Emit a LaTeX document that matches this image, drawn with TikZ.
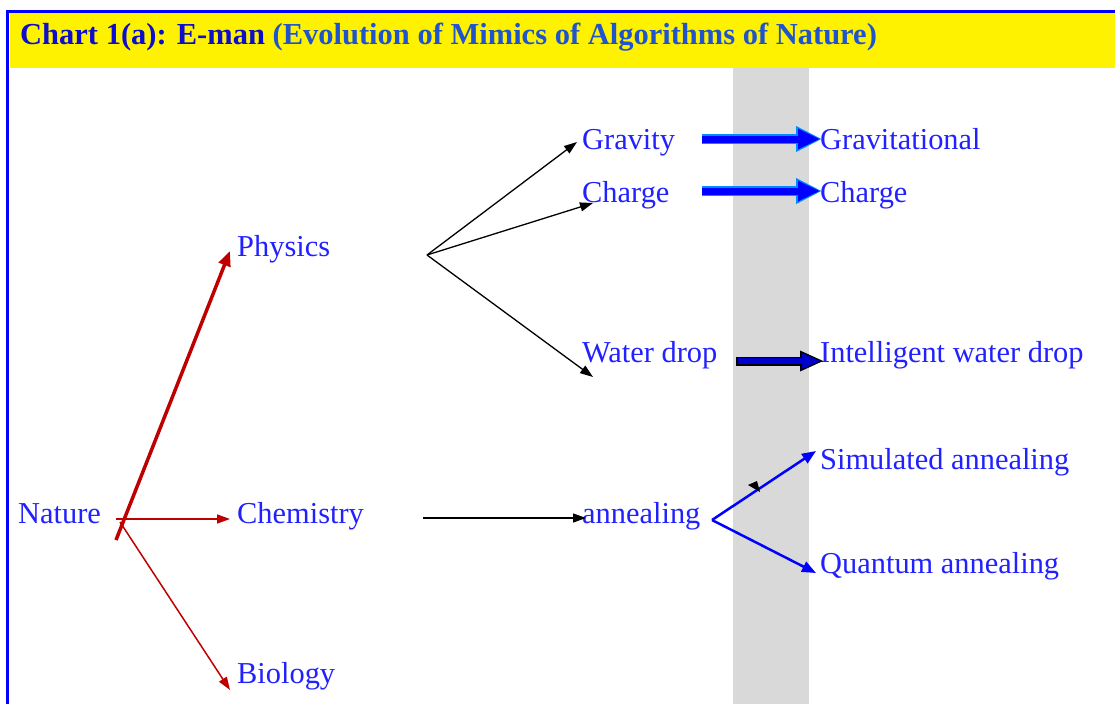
\documentclass[tikz,border=0pt]{standalone}
\usepackage{fontspec}
\setmainfont{Liberation Serif}
\usetikzlibrary{arrows.meta}
\definecolor{lbl}{rgb}{0.13,0.13,1}
\definecolor{titleA}{rgb}{0.05,0.05,0.8}
\definecolor{titleB}{rgb}{0.12,0.33,0.8}
\definecolor{natred}{rgb}{0.75,0,0}
\definecolor{band}{rgb}{0.85,0.85,0.85}
\definecolor{halo}{rgb}{0,0.55,1}
\definecolor{darkblue}{rgb}{0,0,0.8}
\begin{document}
\begin{tikzpicture}[x=1pt,y=-1pt,
  lab/.style={anchor=base west, inner sep=0pt, text=lbl, font=\fontsize{30.4}{36}\selectfont},
  blk/.style={draw=black, line width=1.3pt, -{Triangle[length=13pt,width=9pt]}},
  redthin/.style={draw=natred, line width=1.5pt, -{Triangle[length=13pt,width=9pt]}},
  redthick/.style={draw=natred, line width=3.5pt, -{Triangle[length=15pt,width=12pt]}},
  bluethin/.style={draw=blue, line width=2.5pt, -{Triangle[length=14pt,width=11pt]}},
  bighalo/.style={draw=halo, line width=10pt, -{Triangle[length=26pt,width=24pt]}},
  bigcore/.style={draw=blue, line width=7pt, -{Triangle[length=22pt,width=19pt]}},
  wdout/.style={draw=black, line width=9pt, -{Triangle[length=24pt,width=19pt]}},
  wdin/.style={draw=darkblue, line width=6pt, -{Triangle[length=19pt,width=14pt]}}
]
\path[use as bounding box] (0,0) rectangle (1115,704);
% frame and title band
\fill[yellow] (10,12) rectangle (1115,68);
\fill[band] (733,68) rectangle (809,704);
\draw[blue, line width=3pt] (7.5,704) -- (7.5,11) -- (1115,11);
\node[anchor=base west, inner sep=0pt, font=\bfseries\fontsize{30.5}{36}\selectfont] (title) at (20,44)
  {\textcolor{titleA}{Chart 1(a): E-man} \textcolor{titleB}{(Evolution of Mimics of Algorithms of Nature)}};
% labels
\node[lab] (nature) at (18,523) {Nature};
\node[lab] (physics) at (237,256) {Physics};
\node[lab] (chem) at (237,523) {Chemistry};
\node[lab] (bio) at (237,683) {Biology};
\node[lab] (gravity) at (582,149) {Gravity};
\node[lab] (chargeL) at (582,202) {Charge};
\node[lab] (water) at (582,362) {Water drop};
\node[lab] (anneal) at (582,523) {annealing};
\node[lab] (grav2) at (820,149) {Gravitational};
\node[lab] (chargeR) at (820,202) {Charge};
\node[lab] (iwd) at (820,362) {Intelligent water drop};
\node[lab] (sa) at (820,469) {Simulated annealing};
\node[lab] (qa) at (820,573) {Quantum annealing};
% connector end points
\coordinate (nA) at (116,540);
\coordinate (nB) at (116,519);
\coordinate (nC) at (120,522);
\coordinate (pT) at (230,251);
\coordinate (cT) at (230,519);
\coordinate (bT) at (230,690);
\coordinate (phO) at (427,255);
\coordinate (gT) at (577,142);
\coordinate (chT) at (593,203);
\coordinate (wT) at (593,377);
\coordinate (chO) at (423,518);
\coordinate (anT) at (586,518);
\coordinate (g1) at (702,139);
\coordinate (g2) at (822,139);
\coordinate (c1) at (702,191);
\coordinate (c2) at (822,191);
\coordinate (w1) at (736,361);
\coordinate (w2) at (824,361);
\coordinate (aO) at (712,520);
\coordinate (saT) at (816,451);
\coordinate (qaT) at (816,573);
% red arrows
\draw[redthick] (nA) -- (pT);
\draw[redthin] (nB) -- (cT);
\draw[redthin] (nC) -- (bT);
% black arrows
\draw[blk] (phO) -- (gT);
\draw[blk] (phO) -- (chT);
\draw[blk] (phO) -- (wT);
\draw[blk] (chO) -- (anT);
% big blue arrows
\draw[bighalo] (g1) -- (g2);
\draw[bigcore] (g1) -- ([xshift=-2pt]g2);
\draw[bighalo] (c1) -- (c2);
\draw[bigcore] (c1) -- ([xshift=-2pt]c2);
\draw[wdout] (w1) -- (w2);
\draw[wdin] ([xshift=1.5pt]w1) -- ([xshift=-3pt]w2);
% annealing branches
\draw[bluethin] (aO) -- (saT);
\draw[bluethin] (aO) -- (qaT);
\fill[black] (748,485) -- (757,481) -- (760,492) -- cycle;
\end{tikzpicture}
\end{document}
